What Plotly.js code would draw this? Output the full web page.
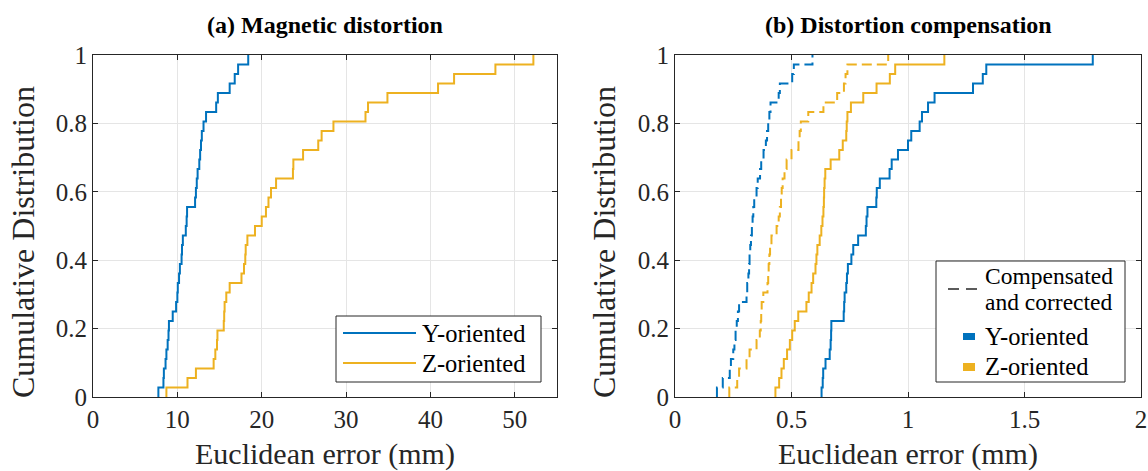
<!DOCTYPE html>
<html>
<head>
<meta charset="utf-8">
<script src="https://cdn.plot.ly/plotly-3.0.1.min.js"></script>
<style>html,body{margin:0;padding:0;background:#fff;}#chart{width:1148px;height:471px;}</style>
</head>
<body>
<div id="chart"></div>
<script>
// (a) Magnetic distortion — Euclidean error (mm), 36 samples each
const magY = [7.75, 8.35, 8.4, 8.6, 8.7, 8.85, 8.95, 9.0, 9.45, 9.85, 10.0, 10.05,
  10.2, 10.3, 10.5, 10.55, 10.65, 11.0, 11.1, 11.15, 12.1, 12.2, 12.3, 12.4,
  12.6, 12.7, 12.8, 12.9, 13.1, 13.4, 14.6, 14.8, 16.2, 16.8, 17.2, 18.4];
const magZ = [8.7, 11.2, 12.2, 14.3, 14.5, 14.7, 14.75, 15.5, 15.55, 15.6, 15.8, 16.2,
  17.6, 17.9, 18.05, 18.1, 18.3, 19.2, 20.0, 20.5, 20.8, 21.1, 21.7, 23.7,
  23.75, 24.9, 26.7, 27.1, 28.5, 32.3, 32.6, 34.9, 40.9, 42.8, 47.7, 52.2];

// (b) Distortion compensation — uncompensated (solid)
const compY = [0.629, 0.634, 0.636, 0.646, 0.664, 0.668, 0.670, 0.671, 0.724, 0.726, 0.728, 0.735,
  0.738, 0.742, 0.757, 0.765, 0.786, 0.819, 0.822, 0.826, 0.864, 0.866, 0.879, 0.921,
  0.930, 0.957, 1.000, 1.014, 1.050, 1.060, 1.086, 1.114, 1.279, 1.321, 1.336, 1.793];
const compZ = [0.431, 0.447, 0.457, 0.467, 0.481, 0.493, 0.503, 0.514, 0.529, 0.564, 0.574, 0.586,
  0.593, 0.603, 0.607, 0.611, 0.621, 0.628, 0.633, 0.637, 0.639, 0.640, 0.642, 0.645,
  0.668, 0.705, 0.720, 0.735, 0.737, 0.740, 0.755, 0.808, 0.865, 0.922, 0.945, 1.156];
// (b) Compensated and corrected (dashed)
const corrY = [0.180, 0.205, 0.235, 0.240, 0.250, 0.255, 0.260, 0.265, 0.270, 0.275, 0.307, 0.310,
  0.315, 0.318, 0.320, 0.323, 0.326, 0.330, 0.333, 0.336, 0.340, 0.350, 0.355, 0.365,
  0.370, 0.380, 0.390, 0.395, 0.400, 0.405, 0.410, 0.445, 0.450, 0.503, 0.510, 0.590];
const corrZ = [0.233, 0.267, 0.275, 0.307, 0.320, 0.350, 0.364, 0.368, 0.370, 0.372, 0.379, 0.397,
  0.400, 0.402, 0.405, 0.408, 0.414, 0.436, 0.445, 0.450, 0.455, 0.458, 0.462, 0.470,
  0.479, 0.500, 0.530, 0.535, 0.540, 0.572, 0.637, 0.696, 0.725, 0.732, 0.740, 0.915];

const seriesNames = ['Y-oriented', 'Z-oriented'];
const compLabel = ['Compensated', 'and corrected'];
const titles = ['<b>(a) Magnetic distortion</b>', '<b>(b) Distortion compensation</b>'];
const xLabel = 'Euclidean error (mm)';
const yLabel = 'Cumulative Distribution';

const BLUE = '#0072BD', ORANGE = '#EDB120', INK = '#262626';
const FONT = '"Liberation Serif", "Times New Roman", serif';

// plot area geometry (px) for converting legend placement into paper units
const M = {l: 93, r: 7, t: 55, b: 74}, W = 1148, H = 471;
const PW = W - M.l - M.r, PH = H - M.t - M.b;
const px = v => (v - M.l) / PW;
const py = v => (H - M.b - v) / PH;

function ecdf(vals) {
  const s = vals.slice().sort((a, b) => a - b);
  const n = s.length;
  const x = [s[0]], y = [0];
  s.forEach((v, i) => { x.push(v); y.push((i + 1) / n); });
  return {x, y};
}
function stepTrace(vals, color, dash, xa, ya, name) {
  const e = ecdf(vals);
  return {x: e.x, y: e.y, xaxis: xa, yaxis: ya, type: 'scatter', mode: 'lines',
    line: {shape: 'hv', color: color, width: 2, dash: dash},
    name: name, showlegend: false, hoverinfo: 'skip'};
}

const traces = [
  stepTrace(magY, BLUE, 'solid', 'x', 'y', seriesNames[0]),
  stepTrace(magZ, ORANGE, 'solid', 'x', 'y', seriesNames[1]),
  stepTrace(corrY, BLUE, '10px,5px', 'x2', 'y2', seriesNames[0] + ' (compensated and corrected)'),
  stepTrace(corrZ, ORANGE, '10px,5px', 'x2', 'y2', seriesNames[1] + ' (compensated and corrected)'),
  stepTrace(compZ, ORANGE, 'solid', 'x2', 'y2', seriesNames[1]),
  stepTrace(compY, BLUE, 'solid', 'x2', 'y2', seriesNames[0])
];

function xaxisDef(domain, range, dtick, anchor) {
  return {domain: domain, range: range, dtick: dtick, tick0: 0, anchor: anchor,
    showgrid: true, gridcolor: '#e5e5e5', gridwidth: 1, zeroline: false,
    showline: true, linecolor: INK, linewidth: 1, mirror: 'ticks',
    ticks: 'inside', ticklen: 5, tickcolor: INK,
    tickfont: {family: FONT, size: 25, color: INK},
    title: {text: xLabel, font: {family: FONT, size: 30, color: INK}, standoff: 17}};
}
function yaxisDef(anchor) {
  return {domain: [0, 1], range: [0, 1], dtick: 0.2, tick0: 0, anchor: anchor,
    showgrid: true, gridcolor: '#e5e5e5', gridwidth: 1, zeroline: false,
    showline: true, linecolor: INK, linewidth: 1, mirror: 'ticks',
    ticks: 'inside', ticklen: 5, tickcolor: INK,
    tickfont: {family: FONT, size: 25, color: INK}};
}

const dA = [0, px(557)], dB = [px(675), 1];
const LF = {family: FONT, size: 24.5, color: '#000'};
function label(text, x, y, size) {
  return {text: text, xref: 'paper', yref: 'paper', x: px(x), y: py(y),
    xanchor: 'left', yanchor: 'middle', showarrow: false,
    font: size ? {family: FONT, size: size, color: '#000'} : LF, borderpad: 0};
}
function ytitle(x) {
  return {text: yLabel, xref: 'paper', yref: 'paper', x: px(x), y: py(242), textangle: -90,
    xanchor: 'center', yanchor: 'middle', showarrow: false,
    font: {family: FONT, size: 32, color: INK}};
}
function box(x0, x1, y0, y1) {
  return {type: 'rect', xref: 'paper', yref: 'paper', x0: px(x0), x1: px(x1), y0: py(y1), y1: py(y0),
    line: {color: INK, width: 1}, fillcolor: '#fff', layer: 'above'};
}
function seg(x0, x1, y, color, width, dash) {
  return {type: 'line', xref: 'paper', yref: 'paper', x0: px(x0), x1: px(x1), y0: py(y), y1: py(y),
    line: {color: color, width: width, dash: dash}, layer: 'above'};
}
function patch(x0, x1, y0, y1, color) {
  return {type: 'rect', xref: 'paper', yref: 'paper', x0: px(x0), x1: px(x1), y0: py(y1), y1: py(y0),
    line: {width: 0}, fillcolor: color, layer: 'above'};
}

const layout = {
  width: W, height: H,
  margin: M,
  paper_bgcolor: '#fff', plot_bgcolor: '#fff',
  font: {family: FONT, color: INK},
  showlegend: false,
  xaxis: xaxisDef(dA, [0, 55], 10, 'y'),
  yaxis: yaxisDef('x'),
  xaxis2: xaxisDef(dB, [0, 2], 0.5, 'y2'),
  yaxis2: yaxisDef('x2'),
  shapes: [
    // legend (a)
    box(336, 541, 316, 382),
    seg(343, 416, 333, BLUE, 2, 'solid'),
    seg(343, 416, 363, ORANGE, 2, 'solid'),
    // legend (b)
    box(936, 1125, 261, 382),
    seg(948, 977, 289, INK, 1.5, '11px,7px'),
    patch(963, 975, 333, 340, BLUE),
    patch(963, 975, 363, 371, ORANGE)
  ],
  annotations: [
    {text: titles[0], xref: 'paper', yref: 'paper', x: (dA[0] + dA[1]) / 2, y: py(25.5),
     xanchor: 'center', yanchor: 'middle', showarrow: false,
     font: {family: FONT, size: 24, color: '#000'}},
    {text: titles[1], xref: 'paper', yref: 'paper', x: (dB[0] + dB[1]) / 2, y: py(25.5),
     xanchor: 'center', yanchor: 'middle', showarrow: false,
     font: {family: FONT, size: 24, color: '#000'}},
    ytitle(23),
    ytitle(604),
    label(seriesNames[0], 421, 333),
    label(seriesNames[1], 421, 363),
    label(compLabel[0], 984, 275.5, 23.5),
    label(compLabel[1], 984, 302, 23.5),
    label(seriesNames[0], 984, 336),
    label(seriesNames[1], 984, 366)
  ]
};

Plotly.newPlot('chart', traces, layout, {displayModeBar: false, staticPlot: true});
</script>
</body>
</html>
